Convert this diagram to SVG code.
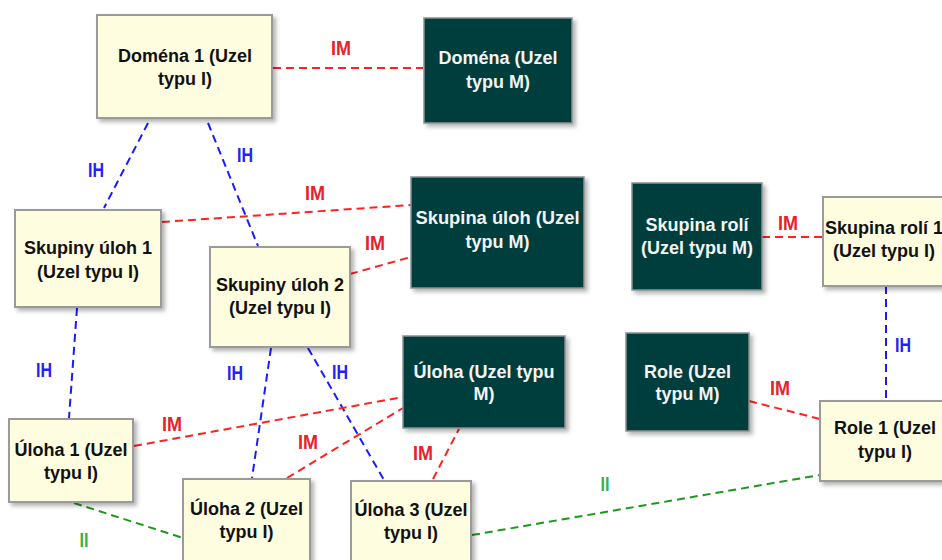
<svg xmlns="http://www.w3.org/2000/svg" width="942" height="560" viewBox="0 0 942 560">
  <defs>
    <filter id="shadow" x="-10%" y="-10%" width="130%" height="130%">
      <feDropShadow dx="3" dy="3" stdDeviation="2" flood-color="#000" flood-opacity="0.3"/>
    </filter>
  </defs>
  <style>
    .inst rect { fill: #fffde0; stroke: #9a9a9a; stroke-width: 2; filter: url(#shadow); }
    .meta rect { fill: #033c3c; stroke: #8a9090; stroke-width: 1.5; filter: url(#shadow); }
    .inst text { fill: #111; }
    .meta text { fill: #f4f4f4; }
    text { font-family: "Liberation Sans", Arial, sans-serif; font-size: 18px; font-weight: bold; text-anchor: middle; }
    .edge { fill: none; stroke-width: 2; stroke-dasharray: 8 5; }
    .im { stroke: #ff2020; }
    .ih { stroke: #1a1aff; }
    .ii { stroke: #1a9a1a; }
    text.lbl { font-weight: bold; font-size: 21px; }
    .lim { fill: #e8202c; }
    .lih { fill: #2424ee; }
    .lii { fill: #3cb04c; }
  </style>

  <rect width="942" height="560" fill="#fff"/>

  <!-- relationship lines and their labels -->
  <g id="connectors">
    <line class="edge im" x1="273" y1="68" x2="423" y2="68"/>
    <line class="edge ih" x1="148" y1="123" x2="104" y2="208"/>
    <line class="edge ih" x1="208" y1="123" x2="258" y2="246"/>
    <line class="edge im" x1="162" y1="222" x2="411" y2="205"/>
    <line class="edge im" x1="350" y1="274" x2="411" y2="257"/>
    <line class="edge im" x1="762" y1="237" x2="823" y2="237"/>
    <line class="edge ih" x1="886" y1="286" x2="886" y2="400"/>
    <line class="edge im" x1="749" y1="401" x2="820" y2="419"/>
    <line class="edge ih" x1="77" y1="308" x2="69" y2="418"/>
    <line class="edge ih" x1="271" y1="348" x2="252" y2="478"/>
    <line class="edge ih" x1="308" y1="348" x2="384" y2="480"/>
    <line class="edge im" x1="134" y1="446" x2="403" y2="397"/>
    <line class="edge im" x1="287" y1="478" x2="403" y2="408"/>
    <line class="edge im" x1="433" y1="479" x2="459" y2="429"/>
    <line class="edge ii" x1="74" y1="503" x2="183" y2="538"/>
    <line class="edge ii" x1="472" y1="535" x2="820" y2="475"/>

    <text class="lbl lim" x="341" y="55" textLength="20" lengthAdjust="spacingAndGlyphs">IM</text>
    <text class="lbl lih" x="96" y="177" textLength="16" lengthAdjust="spacingAndGlyphs">IH</text>
    <text class="lbl lih" x="245" y="162" textLength="16" lengthAdjust="spacingAndGlyphs">IH</text>
    <text class="lbl lim" x="315" y="200" textLength="20" lengthAdjust="spacingAndGlyphs">IM</text>
    <text class="lbl lim" x="375" y="250" textLength="20" lengthAdjust="spacingAndGlyphs">IM</text>
    <text class="lbl lim" x="788" y="230" textLength="20" lengthAdjust="spacingAndGlyphs">IM</text>
    <text class="lbl lih" x="903" y="352" textLength="16" lengthAdjust="spacingAndGlyphs">IH</text>
    <text class="lbl lim" x="780" y="395" textLength="20" lengthAdjust="spacingAndGlyphs">IM</text>
    <text class="lbl lih" x="44" y="377" textLength="16" lengthAdjust="spacingAndGlyphs">IH</text>
    <text class="lbl lih" x="235" y="380" textLength="16" lengthAdjust="spacingAndGlyphs">IH</text>
    <text class="lbl lih" x="340" y="379" textLength="16" lengthAdjust="spacingAndGlyphs">IH</text>
    <text class="lbl lim" x="172" y="431" textLength="20" lengthAdjust="spacingAndGlyphs">IM</text>
    <text class="lbl lim" x="308" y="449" textLength="20" lengthAdjust="spacingAndGlyphs">IM</text>
    <text class="lbl lim" x="423" y="460" textLength="20" lengthAdjust="spacingAndGlyphs">IM</text>
    <text class="lbl lii" x="84" y="547" textLength="9" lengthAdjust="spacingAndGlyphs">II</text>
    <text class="lbl lii" x="605" y="491" textLength="9" lengthAdjust="spacingAndGlyphs">II</text>
  </g>

  <!-- type I nodes -->
  <g id="domena1" class="inst">
    <rect x="97" y="15" width="175" height="103"/>
    <text x="185" y="62">Doména 1 (Uzel</text>
    <text x="185" y="85">typu I)</text>
  </g>
  <g id="skupiny-uloh-1" class="inst">
    <rect x="15" y="210" width="146" height="97"/>
    <text x="88" y="254">Skupiny úloh 1</text>
    <text x="88" y="278">(Uzel typu I)</text>
  </g>
  <g id="skupiny-uloh-2" class="inst">
    <rect x="210" y="247" width="140" height="100"/>
    <text x="280" y="291">Skupiny úloh 2</text>
    <text x="280" y="314">(Uzel typu I)</text>
  </g>
  <g id="skupina-roli-1" class="inst">
    <rect x="823" y="197" width="126" height="89"/>
    <text x="884" y="234" font-size="17">Skupina rolí 1</text>
    <text x="884" y="257">(Uzel typu I)</text>
  </g>
  <g id="role-1" class="inst">
    <rect x="820" y="401" width="130" height="80"/>
    <text x="885" y="434">Role 1 (Uzel</text>
    <text x="885" y="458">typu I)</text>
  </g>
  <g id="uloha-1" class="inst">
    <rect x="9" y="419" width="124" height="83"/>
    <text x="71" y="456">Úloha 1 (Uzel</text>
    <text x="71" y="479">typu I)</text>
  </g>
  <g id="uloha-2" class="inst">
    <rect x="183" y="479" width="127" height="95"/>
    <text x="246.5" y="515">Úloha 2 (Uzel</text>
    <text x="246.5" y="538">typu I)</text>
  </g>
  <g id="uloha-3" class="inst">
    <rect x="351" y="481" width="120" height="95"/>
    <text x="411" y="516">Úloha 3 (Uzel</text>
    <text x="411" y="539">typu I)</text>
  </g>

  <!-- type M nodes -->
  <g id="domena-m" class="meta">
    <rect x="424" y="18" width="148" height="105"/>
    <text x="498" y="64">Doména (Uzel</text>
    <text x="498" y="88">typu M)</text>
  </g>
  <g id="skupina-uloh-m" class="meta">
    <rect x="411" y="177" width="173" height="111"/>
    <text x="497.5" y="224" textLength="164" lengthAdjust="spacingAndGlyphs">Skupina úloh (Uzel</text>
    <text x="497.5" y="248">typu M)</text>
  </g>
  <g id="skupina-roli-m" class="meta">
    <rect x="632" y="183" width="130" height="107"/>
    <text x="697" y="231">Skupina rolí</text>
    <text x="697" y="254">(Uzel typu M)</text>
  </g>
  <g id="role-m" class="meta">
    <rect x="626" y="333" width="123" height="98"/>
    <text x="687.5" y="378">Role (Uzel</text>
    <text x="687.5" y="400">typu M)</text>
  </g>
  <g id="uloha-m" class="meta">
    <rect x="403" y="336" width="162" height="92"/>
    <text x="484" y="378">Úloha (Uzel typu</text>
    <text x="484" y="400">M)</text>
  </g>
</svg>
